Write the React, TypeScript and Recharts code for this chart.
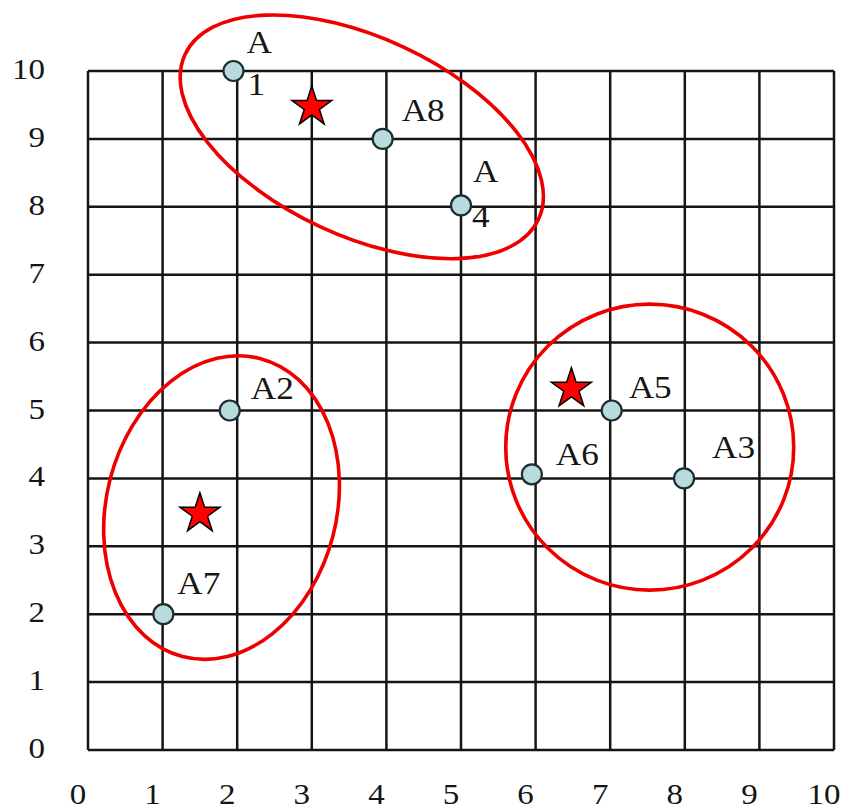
import React from 'react';
import { ScatterChart, Scatter, XAxis, YAxis, CartesianGrid, Symbols } from 'recharts';

// axis ticks (both axes run 0..10)
const axisTicks = [0, 1, 2, 3, 4, 5, 6, 7, 8, 9, 10];

// sample points
const pointNames = ['A1', 'A2', 'A3', 'A4', 'A5', 'A6', 'A7', 'A8'];
const pointX = [1.95, 1.9, 7.99, 5, 7.02, 5.95, 1.01, 3.95];
const pointY = [10, 5, 4, 8.02, 5, 4.06, 2, 9];

// cluster centres (stars)
const centroidX = [3, 1.5, 6.48];
const centroidY = [9.47, 3.48, 5.32];

// cluster outlines (ellipse centres)
const clusterX = [3.67, 1.79, 7.53];
const clusterY = [9.03, 3.57, 4.46];

const FONT = '"Liberation Serif", "Times New Roman", serif';
const INK = '#151515';

const points = pointNames.map((name, i) => ({ name, x: pointX[i], y: pointY[i] }));
const centroids = centroidX.map((x, i) => ({ x, y: centroidY[i] }));
const clusters = clusterX.map((x, i) => ({ x, y: clusterY[i] }));

// ellipse size / rotation in px, per cluster
const ellipseStyle = [
  { rx: 195, ry: 99, angle: 25 },
  { rx: 115, ry: 154, angle: 14.7 },
  { rx: 144, ry: 143, angle: 0 },
];

// label offsets from point centre; two entries = label wraps after "A"
const labelPlacement: Record<string, { dx: number; dy: number }[]> = {
  A1: [{ dx: 13, dy: -18 }, { dx: 14, dy: 24 }],
  A2: [{ dx: 21, dy: -12 }],
  A3: [{ dx: 28, dy: -20 }],
  A4: [{ dx: 12, dy: -23 }, { dx: 11, dy: 22 }],
  A5: [{ dx: 17, dy: -13 }],
  A6: [{ dx: 24, dy: -9 }],
  A7: [{ dx: 14, dy: -20 }],
  A8: [{ dx: 19, dy: -18 }],
};

const XTick = (props: any) => {
  const { x, y, payload } = props;
  return (
    <text
      transform={`translate(${x - 10} ${y + 54}) scale(1.1 1)`}
      textAnchor='middle'
      fontSize={30}
      fontFamily={FONT}
      fill={INK}
    >
      {payload.value}
    </text>
  );
};

const YTick = (props: any) => {
  const { x, y, payload } = props;
  return (
    <text
      transform={`translate(${x - 43} ${y + 8}) scale(1.1 1)`}
      textAnchor='end'
      fontSize={30}
      fontFamily={FONT}
      fill={INK}
    >
      {payload.value}
    </text>
  );
};

const PointShape = (props: any) => {
  const { cx, cy, payload } = props;
  const place = labelPlacement[payload.name] || [{ dx: 18, dy: -15 }];
  const parts = place.length > 1 ? [payload.name.slice(0, 1), payload.name.slice(1)] : [payload.name];
  return (
    <g>
      <circle cx={cx} cy={cy} r={10} fill='#b8dcdd' stroke='#1e2e30' strokeWidth={2.2} />
      {parts.map((t: string, i: number) => (
        <text
          key={i}
          transform={`translate(${cx + place[i].dx} ${cy + place[i].dy}) scale(1.1 1)`}
          fontSize={32}
          fontFamily={FONT}
          fill={INK}
        >
          {t}
        </text>
      ))}
    </g>
  );
};

const StarShape = (props: any) => (
  <Symbols cx={props.cx} cy={props.cy} type='star' size={495} fill='#ff0000' stroke='#000' strokeWidth={1.5} />
);

const ellipseShape = (k: number) => (props: any) => {
  const { cx, cy } = props;
  const s = ellipseStyle[k];
  return (
    <ellipse
      cx={cx}
      cy={cy}
      rx={s.rx}
      ry={s.ry}
      transform={`rotate(${s.angle} ${cx} ${cy})`}
      fill='none'
      stroke='#ee0000'
      strokeWidth={3.6}
    />
  );
};

export default function App() {
  return (
    <div style={{ position: 'absolute', left: 0, top: 0, background: '#fff' }}>
      <ScatterChart width={860} height={812} margin={{ top: 71, right: 26, bottom: 0, left: 28 }}>
        <CartesianGrid stroke={INK} strokeWidth={2.5} fill='none' />
        <XAxis
          type='number'
          dataKey='x'
          domain={[0, 10]}
          ticks={axisTicks}
          interval={0}
          height={62}
          tickSize={0}
          tickMargin={0}
          axisLine={false}
          tickLine={false}
          tick={<XTick />}
        />
        <YAxis
          type='number'
          dataKey='y'
          domain={[0, 10]}
          ticks={axisTicks}
          interval={0}
          width={60}
          tickSize={0}
          tickMargin={0}
          axisLine={false}
          tickLine={false}
          tick={<YTick />}
        />
        {clusters.map((c, k) => (
          <Scatter key={k} data={[c]} shape={ellipseShape(k)} isAnimationActive={false} />
        ))}
        <Scatter data={points} shape={<PointShape />} isAnimationActive={false} />
        <Scatter data={centroids} shape={<StarShape />} isAnimationActive={false} />
      </ScatterChart>
    </div>
  );
}
